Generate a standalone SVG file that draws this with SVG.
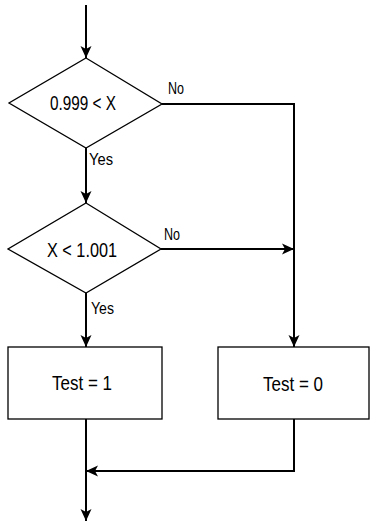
<svg xmlns="http://www.w3.org/2000/svg" width="370" height="524" viewBox="0 0 370 524">
  <style>
    .shape { fill: #fff; stroke: #000; stroke-width: 1.3; }
    .flow { fill: none; stroke: #000; stroke-width: 2; }
    .label { font-family: "Liberation Sans", Arial, sans-serif; fill: #000; }
    .big { font-size: 20px; }
    .small { font-size: 16px; }
  </style>
  <defs>
    <marker id="arrow" viewBox="0 0 12 12" refX="12" refY="6" markerWidth="12" markerHeight="12" markerUnits="userSpaceOnUse" orient="auto">
      <path d="M0,0.5 L12,6 L0,11.5 L3,6 Z" fill="#000"/>
    </marker>
  </defs>

  <!-- connectors -->
  <g id="connectors">
    <line class="flow" x1="86" y1="5" x2="86" y2="58" marker-end="url(#arrow)"/>
    <polyline class="flow" points="162,104 294,104 294,347" marker-end="url(#arrow)"/>
    <line class="flow" x1="86" y1="148" x2="86" y2="203" marker-end="url(#arrow)"/>
    <line class="flow" x1="161" y1="249" x2="294" y2="249" marker-end="url(#arrow)"/>
    <line class="flow" x1="86" y1="293" x2="86" y2="347" marker-end="url(#arrow)"/>
    <line class="flow" x1="86" y1="419" x2="86" y2="521" marker-end="url(#arrow)"/>
    <polyline class="flow" points="294,419 294,471 86,471" marker-end="url(#arrow)"/>
    <text class="label small" x="168" y="94" textLength="16" lengthAdjust="spacingAndGlyphs">No</text>
    <text class="label small" x="89" y="165" textLength="24" lengthAdjust="spacingAndGlyphs">Yes</text>
    <text class="label small" x="164" y="240" textLength="16" lengthAdjust="spacingAndGlyphs">No</text>
    <text class="label small" x="91" y="314" textLength="23" lengthAdjust="spacingAndGlyphs">Yes</text>
  </g>

  <!-- decision: lower bound -->
  <g id="test-low">
    <polygon class="shape" points="86,58 162,104 86,148 9,103"/>
    <text class="label big" x="50" y="110" textLength="66" lengthAdjust="spacingAndGlyphs">0.999 &lt; X</text>
  </g>

  <!-- decision: upper bound -->
  <g id="test-high">
    <polygon class="shape" points="86,203 161,249 86,293 8,249"/>
    <text class="label big" x="47" y="257" textLength="70" lengthAdjust="spacingAndGlyphs">X &lt; 1.001</text>
  </g>

  <!-- result: inside range -->
  <g id="set-one">
    <rect class="shape" x="8" y="347" width="154" height="72"/>
    <text class="label big" x="52" y="390" textLength="60" lengthAdjust="spacingAndGlyphs">Test = 1</text>
  </g>

  <!-- result: outside range -->
  <g id="set-zero">
    <rect class="shape" x="218" y="347" width="151" height="72"/>
    <text class="label big" x="263" y="391" textLength="60" lengthAdjust="spacingAndGlyphs">Test = 0</text>
  </g>
</svg>
